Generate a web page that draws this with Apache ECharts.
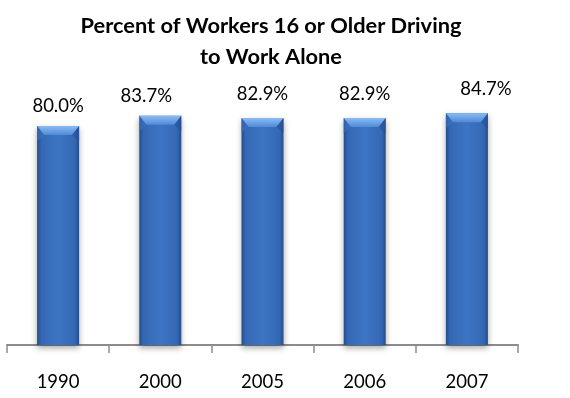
<!DOCTYPE html>
<html><head><meta charset="utf-8">
<script src="https://cdn.jsdelivr.net/npm/echarts@6/dist/echarts.min.js"></script>
<style>html,body{margin:0;padding:0;background:#fff}#c{width:570px;height:398px}</style>
</head><body><div id="c"></div>
<script>
const categories = ['1990','2000','2005','2006','2007'];
const values = [80.0, 83.7, 82.9, 82.9, 84.7];
const labelOffsets = [[0,0],[-14,0],[0,-5],[0,-5],[19,-5]];

const chart = echarts.init(document.getElementById('c'), null, {renderer:'canvas'});
const barColor = new echarts.graphic.LinearGradient(0,0,1,0,[
  {offset:0, color:'#234d8a'},
  {offset:0.1, color:'#3468b4'},
  {offset:0.5, color:'#3d75c4'},
  {offset:0.9, color:'#3468b4'},
  {offset:1, color:'#234d8a'}
]);
const BW = 42;
chart.setOption({
  animation:false,
  title:{
    text:'Percent of Workers 16 or Older Driving\nto Work Alone',
    left:266, top:5, textAlign:'center',
    textStyle:{fontFamily:'Lato', fontWeight:'bold', fontSize:21.8, lineHeight:31, color:'#000'}
  },
  grid:{left:7, right:52, top:71.25, bottom:53, containLabel:false},
  xAxis:{
    type:'category', data:categories,
    axisLine:{show:true, lineStyle:{color:'#8c8c8c', width:2}},
    axisTick:{show:true, length:8, alignWithLabel:false, lineStyle:{color:'#8c8c8c', width:1.5}},
    axisLabel:{margin:28, fontFamily:'Lato', fontSize:18.5, color:'#000'}
  },
  yAxis:{type:'value', min:0, max:100, show:false, splitLine:{show:false}},
  series:[{
    type:'bar',
    barWidth:BW,
    data: values.map((v,i)=>({value:v, label:{offset:labelOffsets[i]}})),
    itemStyle:{color:barColor, shadowColor:'rgba(0,0,0,0.35)', shadowBlur:6, shadowOffsetY:3},
    label:{show:true, position:'top', distance:10, formatter:p=>p.value.toFixed(1)+'%',
      fontFamily:'Lato', fontSize:18.5, color:'#000'}
  },{
    type:'custom',
    data: values.map((v,i)=>[i,v]),
    z:3,
    silent:true,
    renderItem:function(params, api){
      const p = api.coord([api.value(0), api.value(1)]);
      const x0 = p[0]-BW/2, x1 = p[0]+BW/2, y = p[1];
      const b = 7, h = 9;
      return {type:'group', children:[
        {type:'polygon', shape:{points:[[x0,y],[x1,y],[x1-b,y+h],[x0+b,y+h]]},
          style:{fill:new echarts.graphic.LinearGradient(0,0,0,1,[
            {offset:0,color:'#8bbcf3'},{offset:1,color:'#4f8ad6'}])}},
        {type:'polygon', shape:{points:[[x0,y],[x0+b,y+h],[x0+b*0.4,y+h+4],[x0,y+h+6]]},
          style:{fill:'rgba(60,110,190,0.6)'}},
        {type:'polygon', shape:{points:[[x1,y],[x1-b,y+h],[x1-b*0.4,y+h+4],[x1,y+h+6]]},
          style:{fill:'rgba(40,80,150,0.6)'}}
      ]};
    }
  }]
});
</script></body></html>
